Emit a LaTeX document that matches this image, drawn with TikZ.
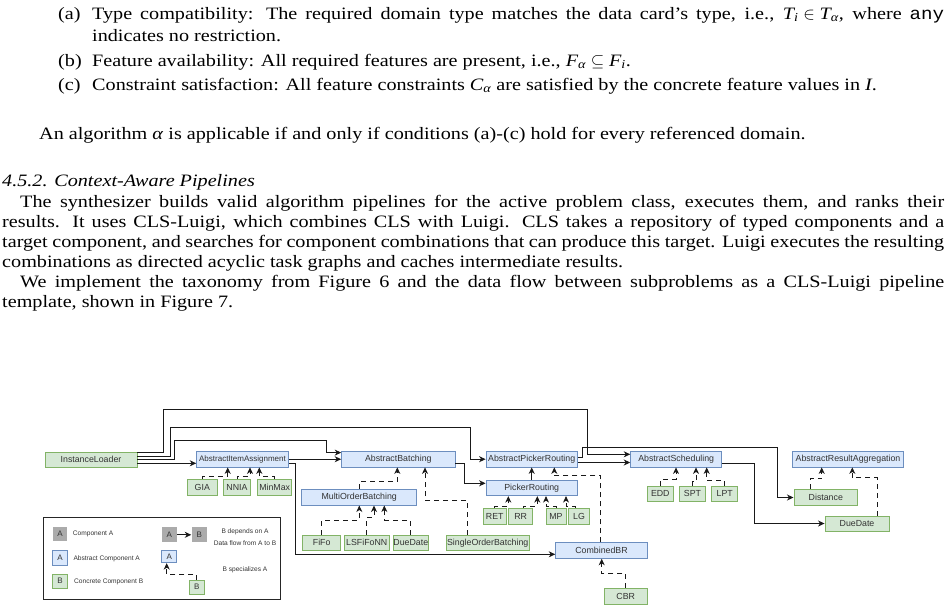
\documentclass[tikz,border=0pt]{standalone}
\usepackage{amsmath}
\usepackage{fontspec}
\setmainfont{Liberation Serif}[FakeStretch=1.16]
\setmonofont{Liberation Mono}[FakeStretch=1.1]
\newfontfamily\dfont{Liberation Sans}
\usetikzlibrary{arrows.meta,calc}
\definecolor{bfill}{HTML}{DAE8FC}
\definecolor{bdraw}{HTML}{6C8EBF}
\definecolor{gfill}{HTML}{D5E8D4}
\definecolor{gdraw}{HTML}{82B366}
\definecolor{cfill}{HTML}{ABABAB}
\definecolor{tcol}{HTML}{333333}
\tikzset{
  txt/.style={anchor=base west, inner sep=0pt, font=\fontsize{17.4}{20.7}\selectfont},
  sz/.style 2 args={minimum width=#1pt, minimum height=#2pt},
  comp/.style={rectangle, inner sep=0pt, line width=0.9pt, text=tcol, font=\dfont\fontsize{8.8}{10}\selectfont},
  abs/.style={comp, fill=bfill, draw=bdraw},
  con/.style={comp, fill=gfill, draw=gdraw},
  gcomp/.style={comp, fill=cfill},
  flow/.style={line width=0.95pt, draw=black!90, -{Stealth[length=6.5pt,width=6pt,inset=2pt]}},
  spec/.style={flow, line width=0.85pt, dash pattern=on 5pt off 4pt},
  legtxt/.style={font=\dfont\fontsize{6.6}{8}\selectfont, inner sep=0pt, text=tcol},
}
\begin{document}
\begin{tikzpicture}[x=1pt,y=-1pt]
\useasboundingbox (0,0) rectangle (947,611);
% ---------- text ----------
\node[txt] (la) at (58,19) {(a)};
\node[txt] (ta) at (92,19) {\thickmuskip=5mu\relax\makebox[852pt][s]{Type compatibility: The required domain type matches the data card’s type, i.e., $\textit{T}_{\textit{i}}\in\textit{T}_{\textit{α}}$, where \texttt{any}}};
\node[txt] (ta2) at (92,41) {indicates no restriction.};
\node[txt] (lb) at (58,66) {(b)};
\node[txt] (tb) at (92,66) {Feature availability: All required features are present, i.e., $\textit{F}_{\textit{α}}\subseteq\textit{F}_{\textit{i}}$.};
\node[txt] (lc) at (58,90) {(c)};
\node[txt] (tc) at (92,90) {Constraint satisfaction: All feature constraints $\textit{C}_{\textit{α}}$ are satisfied by the concrete feature values in \textit{I}.};
\node[txt] (p1) at (39,139) {An algorithm \textit{α} is applicable if and only if conditions (a)-(c) hold for every referenced domain.};
\node[txt] (hd) at (2,186.5) {\textit{4.5.2. Context-Aware Pipelines}};
\node[txt] (p2a) at (20,207) {\makebox[924pt][s]{The synthesizer builds valid algorithm pipelines for the active problem class, executes them, and ranks their}};
\node[txt] (p2b) at (2,227) {\makebox[942pt][s]{results. It uses CLS-Luigi, which combines CLS with Luigi. CLS takes a repository of typed components and a}};
\node[txt] (p2c) at (2,247) {\makebox[942pt][s]{target component, and searches for component combinations that can produce this target. Luigi executes the resulting}};
\node[txt] (p2d) at (2,267) {combinations as directed acyclic task graphs and caches intermediate results.};
\node[txt] (p3a) at (20,287) {\makebox[924pt][s]{We implement the taxonomy from Figure 6 and the data flow between subproblems as a CLS-Luigi pipeline}};
\node[txt] (p3b) at (2,307) {template, shown in Figure 7.};
% ---------- abstract components ----------
\node[con, sz={92}{15.3}] (IL) at (91,459.6) {InstanceLoader};
\node[abs, sz={91.6}{15.5}, font=\dfont\fontsize{8}{10}\selectfont] (AIA) at (242.5,459.2) {AbstractItemAssignment};
\node[abs, sz={113.3}{15.5}] (AB) at (398.3,459.2) {AbstractBatching};
\node[abs, sz={91.3}{15.5}] (APR) at (531.7,459.2) {AbstractPickerRouting};
\node[abs, sz={91}{15.5}] (AS) at (676.2,459.2) {AbstractScheduling};
\node[abs, sz={110.6}{15.5}] (ARA) at (848,459.2) {AbstractResultAggregation};
\node[abs, sz={115}{15.7}] (MOB) at (359.2,497.2) {MultiOrderBatching};
\node[abs, sz={91.3}{15.7}] (PR) at (531.7,487.8) {PickerRouting};
\node[abs, sz={91.6}{15.6}] (CBRs) at (601.5,550.5) {CombinedBR};
% ---------- concrete components ----------
\node[con, sz={30}{16}] (GIA) at (202.3,487.5) {GIA};
\node[con, sz={27.4}{16}] (NNIA) at (237,487.5) {NNIA};
\node[con, sz={34}{16}] (MM) at (274.7,487.5) {MinMax};
\node[con, sz={38}{15.7}] (FIFO) at (321.7,542.8) {FiFo};
\node[con, sz={44.7}{15.7}] (LSF) at (366.7,542.8) {LSFiFoNN};
\node[con, sz={31.7}{15.7}] (DD) at (410.8,542.8) {DueDate};
\node[con, sz={83.3}{15.7}] (SOB) at (487.7,542.8) {SingleOrderBatching};
\node[con, sz={22.7}{16}] (RET) at (494.7,516.3) {RET};
\node[con, sz={24}{16}] (RR) at (520.7,516.3) {RR};
\node[con, sz={20}{16}] (MP) at (556,516.3) {MP};
\node[con, sz={20.6}{16}] (LG) at (579,516.3) {LG};
\node[con, sz={26}{15.7}] (EDD) at (660.3,493.8) {EDD};
\node[con, sz={26.4}{15.7}] (SPT) at (692.5,493.8) {SPT};
\node[con, sz={26}{15.7}] (LPT) at (724.7,493.8) {LPT};
\node[con, sz={63.7}{15.7}] (DIST) at (825.8,497.2) {Distance};
\node[con, sz={64}{15.7}] (DD2) at (857,523.8) {DueDate};
\node[con, sz={43.3}{15.7}] (CBR) at (625.7,596.2) {CBR};
% ---------- data flow ----------
\draw[flow] (IL.east |- 0,452.4) -| (163.3,409.3) -| (587.3,454.3) -- (AS.west |- 0,454.3);
\draw[flow] (IL.east |- 0,456) -| (170.3,427) -| (470.7,459.2) -- (APR.west);
\draw[flow] (IL.east |- 0,459.6) -| (174.3,440.7) -| (326.7,452.6) -- (AB.west |- 0,452.6);
\draw[flow] (IL.east |- 0,463.3) -- (AIA.west |- 0,463.3);
\draw[flow] (AIA.east) -- (AB.west);
\draw[flow] (AIA.east |- 0,463.3) -| (295.7,554.3) -- (CBRs.west |- 0,554.3);
\draw[flow] (AB.east |- 0,463.5) -| (464.5,483.3) -- (PR.west |- 0,483.3);
\draw[flow] (PR.north) -- (APR.south);
\draw[flow] (APR.east |- 0,462.5) -- (AS.west |- 0,462.5);
\draw[flow] (APR.east |- 0,457.5) -| (582.7,447.9) -| (777.3,497.5) -- (DIST.west |- 0,497.5);
\draw[flow] (AS.east |- 0,463.3) -| (754.3,523.5) -- (DD2.west |- 0,523.5);
% ---------- specialisation ----------
\draw[spec] (GIA.north) |- (227.7,476.7) -- (227.7,0 |- AIA.south);
\draw[spec] (NNIA.north) |- (250,476) -- (250,0 |- AIA.south);
\draw[spec] (MM.north) |- (259.3,476.7) -- (259.3,0 |- AIA.south);
\draw[spec] (MOB.north) |- (397.3,481.7) -- (397.3,0 |- AB.south);
\draw[spec] (467.7,0 |- SOB.north) |- (425,500) -- (425,0 |- AB.south);
\draw[spec] (FIFO.north) |- (359.3,520) -- (359.3,0 |- MOB.south);
\draw[spec] (LSF.north) |- (374,517) -- (374,0 |- MOB.south);
\draw[spec] (410,0 |- DD.north) |- (384.3,520) -- (384.3,0 |- MOB.south);
\draw[spec] (RET.north) |- (508.3,506) -- (508.3,0 |- PR.south);
\draw[spec] (523.3,0 |- RR.north) |- (537.3,506) -- (537.3,0 |- PR.south);
\draw[spec] (MP.north) |- (546,506) -- (546,0 |- PR.south);
\draw[spec] (575,0 |- LG.north) |- (566,506) -- (566,0 |- PR.south);
\draw[spec] (600,0 |- CBRs.north) |- (554.3,475) -- (554.3,0 |- APR.south);
\draw[spec] (EDD.north) |- (676,479) -- (676,0 |- AS.south);
\draw[spec] (SPT.north) |- (696,481.7) -- (696,0 |- AS.south);
\draw[spec] (LPT.north) |- (706.7,480) -- (706.7,0 |- AS.south);
\draw[spec] (810,0 |- DIST.north) |- (821.7,478.7) -- (821.7,0 |- ARA.south);
\draw[spec] (877.3,0 |- DD2.north) |- (852.3,477.7) -- (852.3,0 |- ARA.south);
\draw[spec] (CBR.north) |- (601.7,573.3) -- (601.7,0 |- CBRs.south);
% ---------- legend ----------
\node[draw=black!85, line width=0.9pt, inner sep=0pt, sz={237.4}{81.3}] (leg) at (162,558.35) {};
\node[gcomp, sz={14.6}{14}, font=\dfont\fontsize{8}{9}\selectfont] (lgA) at (60,533.7) {A};
\node[legtxt, anchor=west] (lgAt) at (72.7,533.7) {Component A};
\node[abs, sz={14.6}{15}, font=\dfont\fontsize{8}{9}\selectfont] (lbA) at (60,557.5) {A};
\node[legtxt, anchor=west] (lbAt) at (73.3,559) {Abstract Component A};
\node[con, sz={14.6}{14.3}, font=\dfont\fontsize{8}{9}\selectfont] (lcB) at (60,581.2) {B};
\node[legtxt, anchor=west] (lcBt) at (74,581.7) {Concrete Component B};
\node[gcomp, sz={15}{15}, font=\dfont\fontsize{8}{9}\selectfont] (lA2) at (169.2,534.8) {A};
\node[gcomp, sz={15}{15}, font=\dfont\fontsize{8}{9}\selectfont] (lB2) at (199.2,534.8) {B};
\draw[flow] (lA2) -- (lB2);
\node[legtxt] (dep1) at (245,531.7) {B depends on A};
\node[legtxt] (dep2) at (245,543.3) {Data flow from A to B};
\node[abs, sz={15}{12.7}, font=\dfont\fontsize{8}{9}\selectfont] (lA3) at (169.2,556.3) {A};
\node[con, sz={15}{14}, font=\dfont\fontsize{8}{9}\selectfont] (lB3) at (196.8,587) {B};
\draw[spec] (lB3.north) |- (166.7,574) -- (166.7,0 |- lA3.south);
\node[legtxt] (spc) at (245,570) {B specializes A};
\end{tikzpicture}
\end{document}
